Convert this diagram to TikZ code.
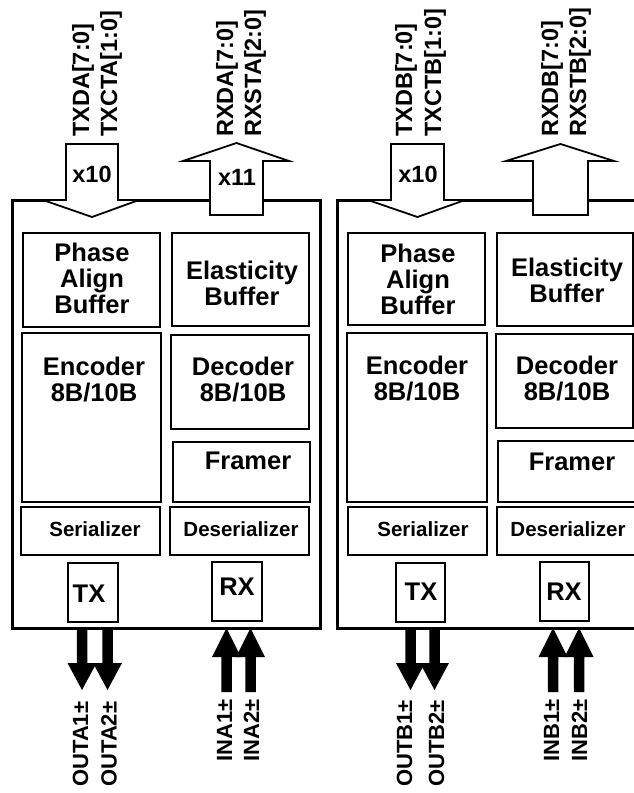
\documentclass[tikz,border=0pt]{standalone}
\usepackage{fontspec}
\setmainfont{Liberation Sans}[BoldFont={Liberation Sans Bold}]
\newcommand\mybox[6][blk]{\node[#1, minimum width={((#5)-(#3))*1pt}, minimum height={((#6)-(#4))*1pt}] (#2) at ({((#3)+(#5))/2},{((#4)+(#6))/2}) {};}
% hollow bus arrow into the block (pointing down)
\newcommand\downbus[5]{% name, xl, xr, top, tip ; head base at 200
  \draw[hollow] ({#2},{#4}) -- ({#3},{#4}) -- ({#3},200) -- ({#3+21},200) -- ({(#2+#3)/2},{#5}) -- ({#2-23},200) -- ({#2},200) -- cycle;
  \coordinate (#1) at ({(#2+#3)/2},{#5});}
% hollow bus arrow out of the block (pointing up)
\newcommand\upbus[5]{% name, xl, xr, tip y, bottom
  \draw[hollow] ({#2},{#5}) -- ({#2},161) -- ({#2-27},161) -- ({(#2+#3)/2},{#4}) -- ({#3+26},161) -- ({#3},161) -- ({#3},{#5}) -- cycle;
  \coordinate (#1) at ({(#2+#3)/2},{#4});}
% solid pin arrows
\newcommand\outpin[2]{% name, centre x
  \fill ({#2-5.25},628) -- ({#2+5.25},628) -- ({#2+5.25},663) -- ({#2+14.5},663) -- ({#2},690) -- ({#2-14.5},663) -- ({#2-5.25},663) -- cycle;
  \coordinate (#1) at ({#2},690);}
\newcommand\inpin[2]{% name, centre x
  \fill ({#2-5.25},692) -- ({#2-5.25},657) -- ({#2-14.5},657) -- ({#2},628) -- ({#2+14.5},657) -- ({#2+5.25},657) -- ({#2+5.25},692) -- cycle;
  \coordinate (#1) at ({#2},628);}
\begin{document}
\begin{tikzpicture}[x=1pt,y=-1pt,
  outer/.style={draw, line width=3pt, inner sep=0},
  blk/.style={draw, line width=2pt, inner sep=0},
  lbl/.style={font=\fontsize{25.5}{26}\selectfont\bfseries, align=center, inner sep=0, anchor=base},
  sml/.style={font=\fontsize{20.5}{22}\selectfont\bfseries, inner sep=0, anchor=base},
  bus/.style={font=\fontsize{23.5}{24}\selectfont\bfseries, inner sep=0, anchor=base},
  pin/.style={font=\fontsize{23.5}{24}\selectfont\bfseries, inner sep=0, rotate=90, anchor=base west},
  pinb/.style={font=\fontsize{22}{24}\selectfont\bfseries, inner sep=0, rotate=90, anchor=base west},
  hollow/.style={draw, fill=white, line width=1.8pt, line join=miter}]
\useasboundingbox (0,0) rectangle (634,793);
\fill[white] (0,0) rectangle (634,793);
\clip (0,0) rectangle (634,793);

% ---------- outer blocks
\mybox[outer]{boxA}{12}{200}{320}{628}
\mybox[outer]{boxB}{337}{200}{670}{628}

% ---------- parallel bus arrows
\downbus{txA}{66}{118}{144}{217}
\upbus{rxA}{210}{263}{143}{215}
\downbus{txB}{391}{444}{144}{217}
\upbus{rxB}{533}{588}{144}{215}
\node[bus] (xA1) at (92,182) {x10};
\node[bus] (xA2) at (237,185) {x11};
\node[bus] (xB1) at (418,182) {x10};

% ---------- inner blocks, channel A
\mybox{pabA}{23}{233}{160}{327}
\mybox{ebA}{172}{233}{309}{326}
\mybox{encA}{22}{333}{161}{502}
\mybox{decA}{171}{335}{309}{429}
\mybox{frmA}{173}{442}{310}{502}
\mybox{serA}{21}{507}{160}{555}
\mybox{desA}{170}{507}{309}{555}
\mybox{txbA}{68}{563}{118}{622}
\mybox{rxbA}{212}{562}{262}{621}

% ---------- inner blocks, channel B
\mybox{pabB}{348}{233}{485}{325}
\mybox{ebB}{497}{233}{633}{326}
\mybox{encB}{347}{333}{487}{502}
\mybox{decB}{496}{334}{633}{428}
\mybox{frmB}{498}{441}{660}{502}
\mybox{serB}{348}{507}{487}{555}
\mybox{desB}{497}{507}{660}{555}
\mybox{txbB}{396}{563}{445}{622}
\mybox{rxbB}{540}{562}{589}{621}

% ---------- block texts A (anchor = baseline of last line)
\node[lbl] (tpabA) at (92,313) {Phase\\Align\\Buffer};
\node[lbl] (tebA) at (242,305) {Elasticity\\Buffer};
\node[lbl] (tencA) at (94,401) {Encoder\\8B/10B};
\node[lbl] (tdecA) at (243,401) {Decoder\\8B/10B};
\node[lbl] (tfrmA) at (248,469) {Framer};
\node[sml] (tserA) at (95,536) {Serializer};
\node[sml] (tdesA) at (241,536) {Deserializer};
\node[lbl] (ttxA) at (89,602) {TX};
\node[lbl] (trxA) at (237,595) {RX};

% ---------- block texts B
\node[lbl] (tpabB) at (418,314) {Phase\\Align\\Buffer};
\node[lbl] (tebB) at (567,302) {Elasticity\\Buffer};
\node[lbl] (tencB) at (417,400) {Encoder\\8B/10B};
\node[lbl] (tdecB) at (567,400) {Decoder\\8B/10B};
\node[lbl] (tfrmB) at (572,470) {Framer};
\node[sml] (tserB) at (423,536) {Serializer};
\node[sml] (tdesB) at (568,536) {Deserializer};
\node[lbl] (ttxB) at (421,600) {TX};
\node[lbl] (trxB) at (564,600) {RX};

% ---------- bus labels (top)
\node[pin] (lA1) at (89,137) {TXDA[7:0]};
\node[pin] (lA2) at (117,137) {TXCTA[1:0]};
\node[pin] (lA3) at (233,137) {RXDA[7:0]};
\node[pin] (lA4) at (261,137) {RXSTA[2:0]};
\node[pin] (lB1) at (412,137) {TXDB[7:0]};
\node[pin] (lB2) at (441,137) {TXCTB[1:0]};
\node[pin] (lB3) at (558,137) {RXDB[7:0]};
\node[pin] (lB4) at (586,137) {RXSTB[2:0]};

% ---------- serial pins
\outpin{oA1}{82}
\outpin{oA2}{107.5}
\inpin{iA1}{226.5}
\inpin{iA2}{250.5}
\outpin{oB1}{410.5}
\outpin{oB2}{434.5}
\inpin{iB1}{553}
\inpin{iB2}{579}

\node[pinb] (pA1) at (88,787) {OUTA1±};
\node[pinb] (pA2) at (116.5,787) {OUTA2±};
\node[pinb] (pA3) at (232,762) {INA1±};
\node[pinb] (pA4) at (259,762) {INA2±};
\node[pinb] (pB1) at (412,787) {OUTB1±};
\node[pinb] (pB2) at (444,787) {OUTB2±};
\node[pinb] (pB3) at (559,762) {INB1±};
\node[pinb] (pB4) at (587,762) {INB2±};
\end{tikzpicture}
\end{document}
